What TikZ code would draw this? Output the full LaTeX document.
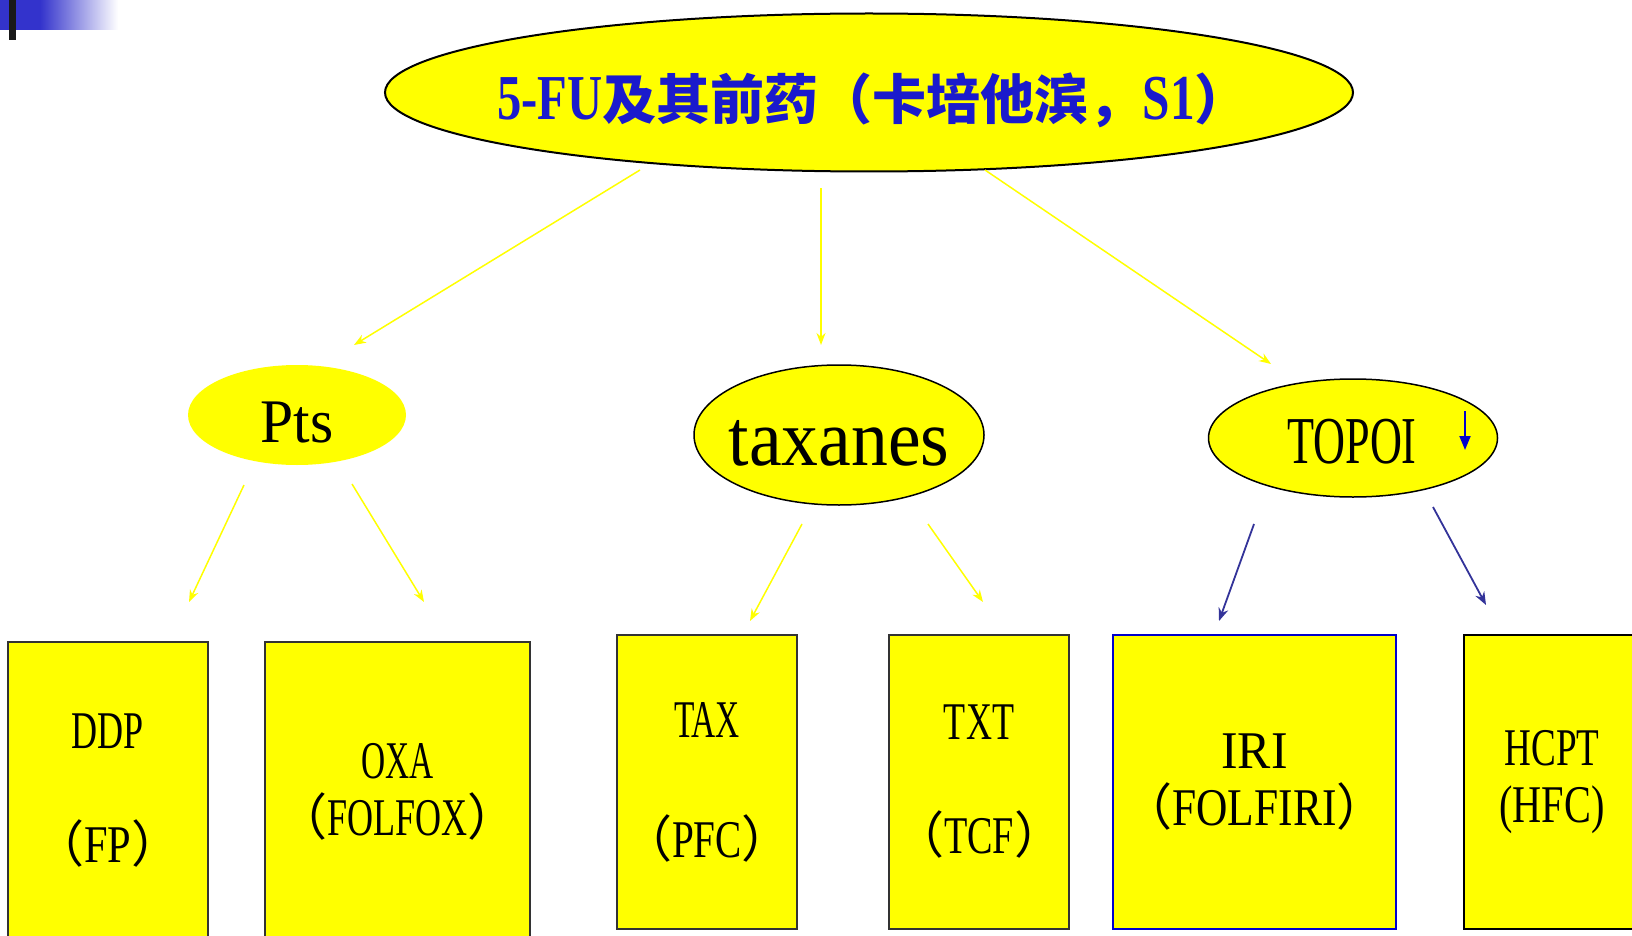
\documentclass[tikz,border=0pt]{standalone}
\usepackage{fontspec}
\usepackage{graphicx}
\usetikzlibrary{shapes.geometric,arrows.meta}
\setmainfont{Liberation Serif}
\newfontfamily\cjk{Noto Sans CJK SC}
\newcommand{\nx}[2]{\scalebox{#1}[1]{#2}}
\newcommand{\bxf}{\rmfamily\fontsize{53}{57}\selectfont}
\newcommand{\lp}{{\cjk\fontsize{50}{57}\selectfont （}}
\newcommand{\rp}{{\cjk\fontsize{50}{57}\selectfont ）}}
\definecolor{tblue}{HTML}{1A1ACC}
\definecolor{dblue}{HTML}{333399}
\definecolor{boxgray}{HTML}{333333}
\definecolor{iriblue}{HTML}{0000CC}
\definecolor{barblue}{HTML}{3333CC}
\definecolor{yel}{HTML}{FFFF00}
\begin{document}
\begin{tikzpicture}[x=1pt,y=-1pt,
  yarrow/.style={draw=yel, line width=1.5pt, -{Stealth[length=12pt,width=9pt]}},
  barrow/.style={draw=dblue, line width=1.8pt, -{Stealth[length=13pt,width=10pt]}},
  bubble/.style={ellipse, fill=yel, inner sep=0pt},
  boxnode/.style={rectangle, fill=yel, draw=boxgray, line width=1.5pt, inner sep=0pt, align=center, font=\bxf},
  lbl/.style={inner sep=0pt, anchor=base},
]
\useasboundingbox (0,0) rectangle (1632,936);
% top-left bar
\fill[barblue] (0,0) rectangle (40,30);
\shade[left color=barblue, right color=white] (40,0) rectangle (118,30);
\fill[black!90] (9,0) rectangle (16,40);

% ellipses
\node[bubble, draw=black, line width=2pt, minimum width=968pt, minimum height=158pt] (title) at (869,92.5) {};
\node[bubble, minimum width=218pt, minimum height=100pt] (pts) at (297,415) {};
\node[bubble, draw=black, line width=1.5pt, minimum width=290pt, minimum height=140pt] (tax) at (839,435) {};
\node[bubble, draw=black, line width=1.5pt, minimum width=289pt, minimum height=118pt] (topoi) at (1353,438) {};

\node[lbl, text=tblue] (titletxt) at (873,120) {{\bfseries\fontsize{64}{70}\selectfont\nx{0.76}{5-FU}}{\cjk\bfseries\fontsize{54}{60}\selectfont 及其前药（卡培他滨，}{\bfseries\fontsize{64}{70}\selectfont\nx{0.77}{S1}}{\cjk\bfseries\fontsize{54}{60}\selectfont ）}};
\node[lbl] (ptstxt) at (297,442) {\fontsize{62}{68}\selectfont\nx{0.96}{Pts}};
\node[lbl] (taxtxt) at (839,465) {\fontsize{80}{86}\selectfont\nx{0.92}{taxanes}};
\node[lbl] (topoitxt) at (1352,463) {\fontsize{67}{72}\selectfont\nx{0.66}{TOPOI}};
\coordinate (ta1) at (1465,411);
\coordinate (ta2) at (1465,450);
\draw[iriblue, line width=2pt, -{Triangle[length=14pt,width=11pt]}] (ta1) -- (ta2);

% boxes
\node[boxnode, minimum width=200pt, minimum height=300pt] (ddp) at (108,792) {\nx{0.68}{DDP}\\[57pt]\lp\nx{0.8}{FP}\rp\\[-50pt]};
\node[boxnode, minimum width=265pt, minimum height=300pt] (oxa) at (397.5,792) {\nx{0.63}{OXA}\\\lp\nx{0.68}{FOLFOX}\rp};
\node[boxnode, minimum width=180pt, minimum height=294pt] (taxb) at (707,782) {\nx{0.63}{TAX}\\[63pt]\lp\nx{0.74}{PFC}\rp};
\node[boxnode, minimum width=180pt, minimum height=294pt] (txt) at (979,782) {\nx{0.68}{TXT}\\[57pt]\lp\nx{0.72}{TCF}\rp};
\node[boxnode, draw=iriblue, minimum width=283pt, minimum height=294pt] (iri) at (1254.5,782) {\nx{0.94}{IRI}\\\lp\nx{0.82}{FOLFIRI}\rp};
\node[boxnode, draw=black, minimum width=176pt, minimum height=294pt] (hcpt) at (1552,782) {\nx{0.7}{HCPT}\\\nx{0.76}{(HFC)}};

% connectors
\coordinate (c1a) at (640,170); \coordinate (c1b) at (354,345);
\coordinate (c2a) at (821,188); \coordinate (c2b) at (821,345);
\coordinate (c3a) at (985,170); \coordinate (c3b) at (1271,364);
\coordinate (c4a) at (244,485); \coordinate (c4b) at (189,602);
\coordinate (c5a) at (352,484); \coordinate (c5b) at (424,602);
\coordinate (c6a) at (802,524); \coordinate (c6b) at (750,621);
\coordinate (c7a) at (928,524); \coordinate (c7b) at (983,602);
\coordinate (c8a) at (1254,524); \coordinate (c8b) at (1219,621);
\coordinate (c9a) at (1433,507); \coordinate (c9b) at (1486,605);
\draw[yarrow] (c1a) -- (c1b);
\draw[yarrow] (c2a) -- (c2b);
\draw[yarrow] (c3a) -- (c3b);
\draw[yarrow] (c4a) -- (c4b);
\draw[yarrow] (c5a) -- (c5b);
\draw[yarrow] (c6a) -- (c6b);
\draw[yarrow] (c7a) -- (c7b);
\draw[barrow] (c8a) -- (c8b);
\draw[barrow] (c9a) -- (c9b);
\end{tikzpicture}
\end{document}
